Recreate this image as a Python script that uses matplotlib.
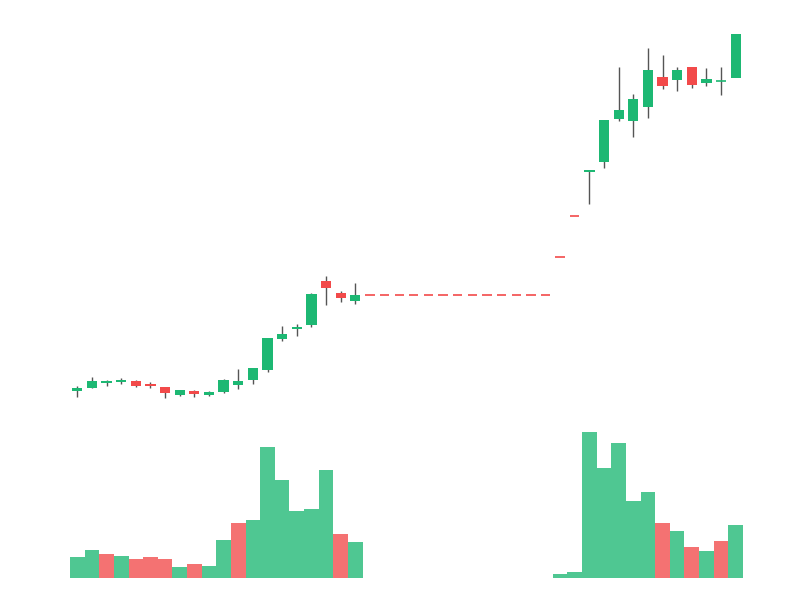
import matplotlib
matplotlib.use("Agg")
import matplotlib.pyplot as plt

# prices in arbitrary units (chart has no axes)
opens  = [209, 212, 217, 218, 219, 216, 213, 205, 209, 205, 208, 215, 220, 230, 261, 271, 275, 319, 307, 299]
closes = [212, 219, 219, 220, 214, 214, 207, 210, 206, 208, 220, 219, 232, 262, 266, 273, 306, 312, 302, 305]
highs  = [214, 223, 220, 222, 220, 218, 213, 210, 210, 209, 221, 231, 232, 262, 274, 276, 307, 324, 309, 317]
lows   = [203, 212, 214, 216, 213, 212, 202, 204, 203, 204, 207, 211, 216, 228, 259, 264, 273, 295, 298, 296]
# 13 flat periods without trades
opens  += [305] * 13
closes += [305] * 13
highs  += [305] * 13
lows   += [305] * 13
opens  += [343, 384, 428, 438, 481, 479, 493, 523, 520, 533, 517, 519, 522]
closes += [343, 384, 430, 480, 490, 501, 530, 514, 530, 515, 521, 520, 566]
highs  += [343, 384, 430, 480, 533, 506, 552, 545, 533, 533, 532, 533, 566]
lows   += [343, 384, 396, 432, 479, 463, 482, 511, 509, 512, 514, 505, 522]
volumes = [21, 28, 24, 22, 19, 21, 19, 11, 14, 12, 38, 55, 58, 131, 98, 67, 69, 108, 44, 36]
volumes += [0] * 13
volumes += [4, 6, 146, 110, 135, 77, 86, 55, 47, 31, 27, 37, 53]
vol_up = [1, 1, 0, 1, 0, 0, 0, 1, 0, 1, 1, 0, 1, 1, 1, 1, 1, 1, 0, 1]
vol_up += [0] * 13
vol_up += [1, 1, 1, 1, 1, 1, 1, 0, 1, 0, 1, 0, 1]

up, down = "#1db873", "#f24a4a"
n = len(opens)

fig = plt.figure(figsize=(8, 6), dpi=100)
ax = fig.add_axes([70 / 800, 0, 673 / 800, 1])
axv = fig.add_axes([70 / 800, 0, 673 / 800, 1])
for a in (ax, axv):
    a.set_xlim(-0.5, n - 0.5)
    a.axis("off")
    a.patch.set_alpha(0)
ax.set_ylim(0, 600)
axv.set_ylim(-22, 578)

for i in range(n):
    o, c, h, l = opens[i], closes[i], highs[i], lows[i]
    col = up if c >= o else down
    if i >= 20 and i < 35:
        col = down if o == c else col
    if h > max(o, c) or l < min(o, c):
        ax.vlines(i, l, h, color="#555555", lw=1, zorder=1)
    if abs(c - o) < 1.5:
        ax.hlines((o + c) / 2, i - 0.32, i + 0.32, color=col, lw=1.2, zorder=2)
    else:
        ax.bar(i, c - o, bottom=o, width=0.7, color=col, zorder=2)
    if volumes[i] > 0:
        axv.bar(i, volumes[i], width=1.0, color=up if vol_up[i] else down,
                alpha=0.78, linewidth=0)

fig.savefig("out.png", dpi=100)
